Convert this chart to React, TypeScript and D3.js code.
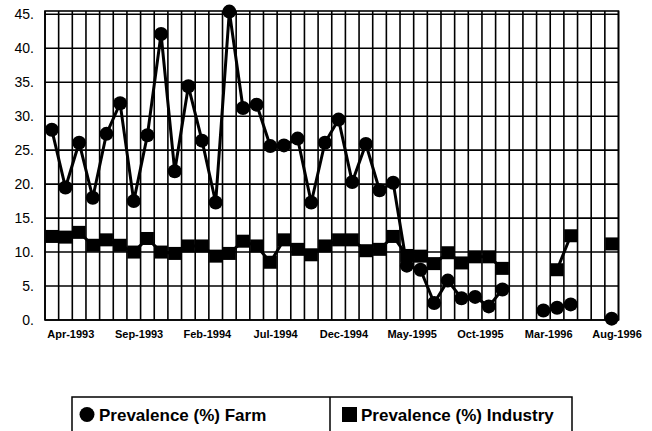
import React from "react";
import * as d3 from "d3";

const categories: string[] = [
  "Mar-1993", "Apr-1993", "May-1993", "Jun-1993", "Jul-1993", "Aug-1993", "Sep-1993", "Oct-1993", "Nov-1993", "Dec-1993",
  "Jan-1994", "Feb-1994", "Mar-1994", "Apr-1994", "May-1994", "Jun-1994", "Jul-1994", "Aug-1994", "Sep-1994", "Oct-1994",
  "Nov-1994", "Dec-1994", "Jan-1995", "Feb-1995", "Mar-1995", "Apr-1995", "May-1995", "Jun-1995", "Jul-1995", "Aug-1995",
  "Sep-1995", "Oct-1995", "Nov-1995", "Dec-1995", "Jan-1996", "Feb-1996", "Mar-1996", "Apr-1996", "May-1996", "Jun-1996",
  "Jul-1996", "Aug-1996",
];

const farm: (number | null)[] = [
  28.0, 19.5, 26.1, 18.0, 27.4, 31.9, 17.5, 27.2, 42.1, 21.9,
  34.4, 26.4, 17.3, 45.4, 31.2, 31.7, 25.6, 25.7, 26.7, 17.3,
  26.1, 29.5, 20.3, 25.9, 19.1, 20.2, 8.0, 7.4, 2.5, 5.8,
  3.2, 3.4, 2.0, 4.5, null, null, 1.4, 1.8, 2.3, null,
  null, 0.2,
];

const industry: (number | null)[] = [
  12.3, 12.2, 12.9, 11.0, 11.8, 11.0, 10.0, 12.0, 10.0, 9.8,
  10.9, 10.9, 9.4, 9.8, 11.6, 10.9, 8.5, 11.8, 10.4, 9.6,
  10.9, 11.8, 11.8, 10.2, 10.4, 12.3, 9.5, 9.4, 8.3, 9.9,
  8.4, 9.3, 9.3, 7.6, null, null, null, 7.4, 12.4, null,
  null, 11.2,
];

const tickLabels: string[] = [
  "Apr-1993", "Sep-1993", "Feb-1994", "Jul-1994", "Dec-1994", "May-1995", "Oct-1995", "Mar-1996", "Aug-1996",
];

const yTicks: number[] = [0, 5, 10, 15, 20, 25, 30, 35, 40, 45];

const legendLabels: string[] = ["Prevalence (%) Farm", "Prevalence (%) Industry"];

const W = 652;
const H = 431;
const FONT = "'Liberation Sans', Arial, Helvetica, sans-serif";

export default function App() {
  const plotLeft = 45;
  const plotRight = 618.5;
  const plotTop = 11;
  const plotBottom = 320;

  const x = d3.scaleBand<string>().domain(categories).range([plotLeft, plotRight]).padding(0);
  const bw = x.bandwidth();
  const y = d3.scaleLinear().domain([0, 45]).range([plotBottom, 14.3]);

  const cx = (i: number) => (x(categories[i]) as number) + bw / 2;

  const line = d3
    .line<number | null>()
    .defined((d) => d != null)
    .x((_, i) => cx(i))
    .y((d) => y(d as number));

  const boundaries = categories.map((c) => x(c) as number).concat([plotRight]);

  return (
    <svg
      width={W}
      height={H}
      viewBox={`0 0 ${W} ${H}`}
      style={{ position: "absolute", left: 0, top: 0, background: "#fff" }}
    >
      <rect x={0} y={0} width={W} height={H} fill="#fff" />
      {boundaries.map((bx, i) => (
        <line key={"v" + i} x1={bx} x2={bx} y1={plotTop} y2={plotBottom} stroke="#000" strokeWidth={1.6} />
      ))}
      {yTicks.map((t) => (
        <line key={"h" + t} x1={plotLeft} x2={plotRight} y1={y(t)} y2={y(t)} stroke="#000" strokeWidth={1.6} />
      ))}
      <rect
        x={plotLeft}
        y={plotTop}
        width={plotRight - plotLeft}
        height={plotBottom - plotTop}
        fill="none"
        stroke="#000"
        strokeWidth={1.6}
      />
      {yTicks.map((t) => (
        <text
          key={"yl" + t}
          x={34}
          y={y(t)}
          dy="0.36em"
          textAnchor="end"
          fontFamily={FONT}
          fontSize={14}
          fill="#000"
        >
          {t + "."}
        </text>
      ))}
      {tickLabels.map((lab) => (
        <text
          key={"xl" + lab}
          x={(x(lab) as number) + bw - 1.5}
          y={338}
          textAnchor="middle"
          fontFamily={FONT}
          fontSize={11}
          fontWeight="bold"
          fill="#000"
        >
          {lab}
        </text>
      ))}
      <path d={line(industry) || ""} fill="none" stroke="#000" strokeWidth={3} />
      <path d={line(farm) || ""} fill="none" stroke="#000" strokeWidth={3} />
      {industry.map((v, i) =>
        v == null ? null : (
          <rect key={"sq" + i} x={cx(i) - 6.5} y={y(v) - 6.5} width={13} height={13} fill="#000" />
        )
      )}
      {farm.map((v, i) =>
        v == null ? null : <circle key={"c" + i} cx={cx(i)} cy={y(v)} r={7} fill="#000" />
      )}
      <g>
        <rect x={72} y={397} width={500} height={50} fill="none" stroke="#000" strokeWidth={1.5} />
        <line x1={330} x2={330} y1={397} y2={447} stroke="#000" strokeWidth={1.5} />
        <circle cx={87} cy={414.5} r={7.5} fill="#000" />
        <text x={99} y={420.5} fontFamily={FONT} fontSize={17} fontWeight="bold" fill="#000">
          {legendLabels[0]}
        </text>
        <rect x={342} y={407} width={15} height={15} fill="#000" />
        <text x={361} y={420.5} fontFamily={FONT} fontSize={17} fontWeight="bold" fill="#000">
          {legendLabels[1]}
        </text>
      </g>
    </svg>
  );
}
